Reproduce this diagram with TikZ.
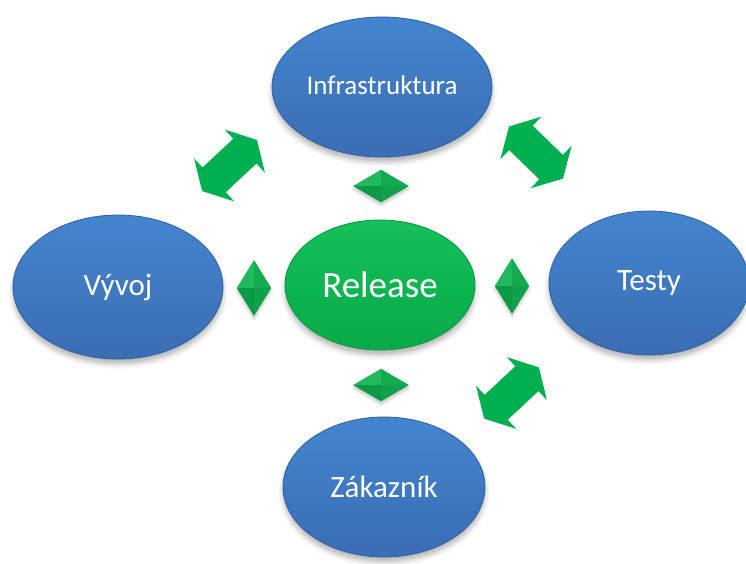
\documentclass[tikz,border=0pt]{standalone}
\usepackage{fontspec}
\setmainfont{Carlito}
\usetikzlibrary{shapes.geometric,shadows.blur}

\definecolor{ovaltop}{HTML}{4485CF}
\definecolor{ovalbottom}{HTML}{3A6DB4}
\definecolor{ovalrim}{HTML}{30609F}
\definecolor{reltop}{HTML}{14C05A}
\definecolor{relbottom}{HTML}{08AA48}
\definecolor{relrim}{HTML}{05963F}
\definecolor{arrowgreen}{HTML}{00B050}
\definecolor{gemA}{HTML}{1EBA5C}
\definecolor{gemB}{HTML}{14AA50}
\definecolor{gemC}{HTML}{0C9A46}
\definecolor{gemD}{HTML}{10A24B}

\tikzset{
  oval/.style={ellipse, inner sep=0pt, text=white,
    blur shadow={shadow xshift=0pt, shadow yshift=-5pt,
      shadow blur radius=5pt, shadow opacity=30}},
  blueoval/.style={oval, top color=ovaltop, bottom color=ovalbottom,
    draw=ovalrim, line width=0.8pt},
  greenoval/.style={oval, top color=reltop, bottom color=relbottom,
    draw=relrim, line width=0.8pt},
  gem/.style={diamond, inner sep=0pt, fill=gemB,
    blur shadow={shadow xshift=0pt, shadow yshift=-3pt,
      shadow blur radius=3pt, shadow opacity=25}},
  txt/.style={font=\fontsize{31}{35}\selectfont},
  pics/dblarrow/.style={code={
    \fill[arrowgreen] (-37.5,0) -- (-21,29.5) -- (-21,17) -- (21,17)
      -- (21,29.5) -- (37.5,0) -- (21,-29.5) -- (21,-17) -- (-21,-17)
      -- (-21,-29.5) -- cycle;}}
}

\newcommand{\gemfacets}[1]{%
  \fill[gemA] (#1.north) -- (#1.west) -- (#1.center) -- cycle;
  \fill[gemB] (#1.north) -- (#1.east) -- (#1.center) -- cycle;
  \fill[gemC] (#1.south) -- (#1.west) -- (#1.center) -- cycle;
  \fill[gemD] (#1.south) -- (#1.east) -- (#1.center) -- cycle;
}

\begin{document}
\begin{tikzpicture}[x=1pt,y=-1pt]
\useasboundingbox (0,0) rectangle (746,563);

% outer ovals
\node[blueoval, minimum width=220, minimum height=140, font=\fontsize{27}{31}\selectfont]
  (infra) at (382,87) {\raisebox{3pt}{Infrastruktura}};
\node[blueoval, txt, minimum width=210, minimum height=144]
  (vyvoj) at (118,287) {Vývoj};
\node[blueoval, txt, minimum width=200, minimum height=144]
  (testy) at (649,283) {\raisebox{-2pt}{Testy}};
\node[blueoval, txt, minimum width=202, minimum height=140]
  (zakaznik) at (384,487) {Zákazník};

% centre oval
\node[greenoval, minimum width=190, minimum height=130,
  font=\fontsize{37}{41}\selectfont] (release) at (380,285) {Release};

% small gems around the centre
\node[gem, minimum width=55, minimum height=32] (gtop) at (381,186) {};
\node[gem, minimum width=55, minimum height=32] (gbottom) at (381,385) {};
\node[gem, minimum width=34, minimum height=55] (gleft) at (254,288) {};
\node[gem, minimum width=34, minimum height=55] (gright) at (512,286) {};
\gemfacets{gtop}
\gemfacets{gbottom}
\gemfacets{gleft}
\gemfacets{gright}

% two-way block arrows
\coordinate (aLeft) at (229.5,165.5);
\coordinate (aRight) at (536,152.5);
\coordinate (aLow) at (511.5,393);
\pic[rotate=43] at (aLeft) {dblarrow};
\pic[rotate=-44] at (aRight) {dblarrow};
\pic[rotate=43] at (aLow) {dblarrow};
\end{tikzpicture}
\end{document}
